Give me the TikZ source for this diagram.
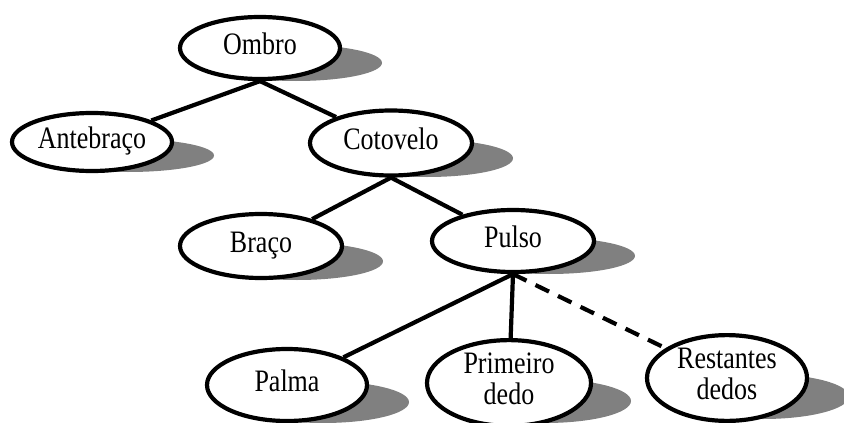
\documentclass[tikz,border=0pt]{standalone}
\usepackage{fontspec}
\setmainfont{Liberation Serif}
\usetikzlibrary{shapes.geometric,backgrounds,calc}
\definecolor{shadowgray}{RGB}{128,128,128}
\newcommand{\tallText}[1]{\scalebox{1}[1.2]{\begin{tabular}{@{}c@{}}#1\end{tabular}}}
\tikzset{
  part/.style={ellipse, draw=black, line width=4.2pt, fill=white, inner sep=0pt,
    font=\fontsize{26}{25}\selectfont},
  link/.style={line width=4.2pt},
  dashlink/.style={line width=4.2pt, dash pattern=on 15pt off 10pt},
  shade/.style={fill=shadowgray}
}
\begin{document}
\begin{tikzpicture}[x=1pt,y=-1pt]
\useasboundingbox (0,0) rectangle (844,423);
\node[part, minimum width=160pt, minimum height=62pt] (ombro) at (260,48) {\tallText{Ombro}};
\node[part, minimum width=160pt, minimum height=58pt] (antebraco) at (92,142) {\tallText{Antebraço}};
\node[part, minimum width=162pt, minimum height=65pt] (cotovelo) at (391,143) {\tallText{Cotovelo}};
\node[part, minimum width=162pt, minimum height=64pt] (braco) at (261,246) {\tallText{Braço}};
\node[part, minimum width=162pt, minimum height=62pt] (pulso) at (513,241) {\tallText{Pulso}};
\node[part, minimum width=160pt, minimum height=72pt] (palma) at (287,385) {\tallText{Palma}};
\node[part, minimum width=164pt, minimum height=76pt] (primeiro) at (509,383) {\tallText{Primeiro\\dedo}};
\node[part, minimum width=160pt, minimum height=78pt] (restantes) at (727,378) {\tallText{Restantes\\dedos}};
\begin{scope}[on background layer]
\foreach \n/\ry in {ombro/33, antebraco/30, cotovelo/34, braco/34, pulso/33, palma/38, primeiro/40, restantes/41}{
  \fill[shade] ($(\n.center)+(36,0.45*\ry)$) ellipse [x radius=86pt, y radius=0.55*\ry pt];
}
\end{scope}
\draw[link] (ombro.south) -- (antebraco);
\draw[link] (ombro.south) -- (cotovelo);
\draw[link] (cotovelo.south) -- (braco);
\draw[link] (cotovelo.south) -- (pulso);
\draw[link] (pulso.south) -- (palma);
\draw[link] (pulso.south) -- (primeiro);
\draw[dashlink] (pulso.south) -- (restantes);
\end{tikzpicture}
\end{document}
